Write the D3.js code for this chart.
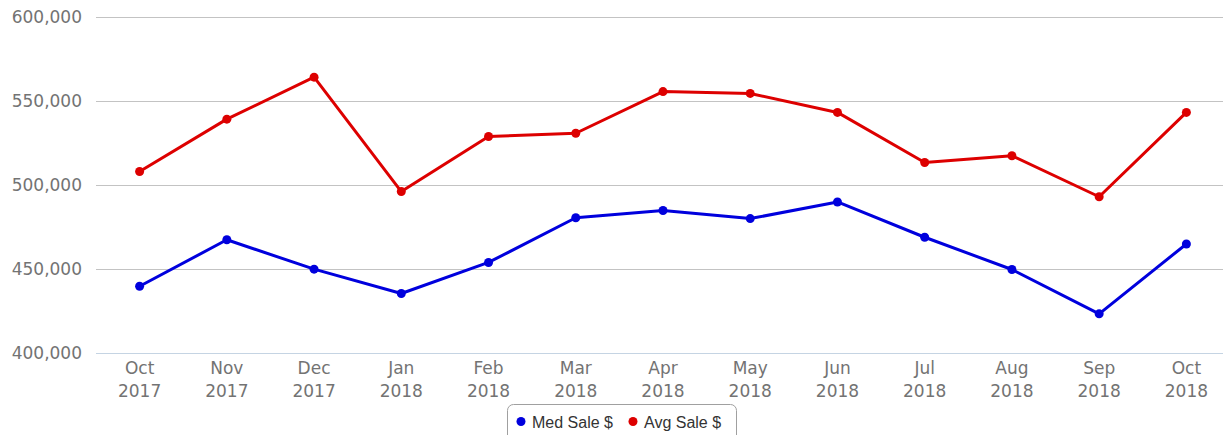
<!DOCTYPE html>
<html>
<head>
<meta charset="utf-8">
<script src="https://cdn.jsdelivr.net/npm/d3@7"></script>
<style>
  body { margin: 0; background: #fff; }
  svg { display: block; }
</style>
</head>
<body>
<div id="chartDiv"></div>
<script>
var W = 1223
var H = 435

// data
var months = ["Oct", "Nov", "Dec", "Jan", "Feb", "Mar", "Apr", "May", "Jun", "Jul", "Aug", "Sep", "Oct"]
var years = ["2017", "2017", "2017", "2018", "2018", "2018", "2018", "2018", "2018", "2018", "2018", "2018", "2018"]
var medSale = [440000, 467700, 450200, 435700, 454200, 480800, 485100, 480300, 490200, 469200, 450000, 423600, 465200]
var avgSale = [508300, 539500, 564500, 496400, 529200, 531100, 555900, 554800, 543500, 513700, 517700, 493300, 543500]
var yTicks = [400000, 450000, 500000, 550000, 600000]
var seriesNames = ["Med Sale $", "Avg Sale $"]
var seriesColors = ["#0000dd", "#dd0000"]

var svg = d3.select("#chartDiv")
    .append("svg")
    .attr("width", W)
    .attr("height", H)

// scales
var xScale = d3.scalePoint()
    .domain(d3.range(months.length))
    .range([96, 1230])
    .padding(0.5)

var yScale = d3.scaleLinear()
    .domain([400000, 600000])
    .range([353.5, 17.5])

// gridlines + y labels
var yAxis = d3.axisLeft(yScale)
    .tickValues(yTicks)
    .tickSize(0)
    .tickPadding(14)
    .tickFormat(d3.format(","))

var yG = svg.append("g")
    .attr("transform", "translate(96,0)")
    .call(yAxis)
yG.select(".domain").remove()
yG.selectAll("text")
    .attr("fill", "#737373")
    .attr("font-family", "DejaVu Sans")
    .attr("font-size", "17px")

svg.append("g").selectAll("line")
    .data(yTicks)
    .enter()
    .append("line")
    .attr("x1", 96)
    .attr("x2", W)
    .attr("y1", function(d) { return yScale(d) })
    .attr("y2", function(d) { return yScale(d) })
    .attr("stroke", function(d) { return d == 400000 ? "#c5d4e3" : "#c3c3c3" })
    .attr("stroke-width", 1.2)

// x labels, two lines each
var xG = svg.append("g")
xG.selectAll(".xlab")
    .data(months)
    .enter()
    .append("text")
    .attr("class", "xlab")
    .attr("text-anchor", "middle")
    .attr("fill", "#737373")
    .attr("font-family", "DejaVu Sans")
    .attr("font-size", "17px")
    .attr("x", function(d, i) { return xScale(i) })
    .attr("y", 374)
    .text(function(d) { return d })
xG.selectAll(".ylab")
    .data(years)
    .enter()
    .append("text")
    .attr("class", "ylab")
    .attr("text-anchor", "middle")
    .attr("fill", "#737373")
    .attr("font-family", "DejaVu Sans")
    .attr("font-size", "17px")
    .attr("x", function(d, i) { return xScale(i) })
    .attr("y", 397)
    .text(function(d) { return d })

// series
var line = d3.line()
    .x(function(d, i) { return xScale(i) })
    .y(function(d) { return yScale(d) })

var allSeries = [medSale, avgSale]
allSeries.forEach(function(vals, s) {
    var g = svg.append("g")
    g.append("path")
        .datum(vals)
        .attr("d", line)
        .attr("fill", "none")
        .attr("stroke", seriesColors[s])
        .attr("stroke-width", 3)
        .attr("stroke-linejoin", "round")
    g.selectAll("circle")
        .data(vals)
        .enter()
        .append("circle")
        .attr("cx", function(d, i) { return xScale(i) })
        .attr("cy", function(d) { return yScale(d) })
        .attr("r", 4.5)
        .attr("fill", seriesColors[s])
})

// legend
var legG = svg.append("g")
legG.append("rect")
    .attr("x", 507.5)
    .attr("y", 404.5)
    .attr("width", 229)
    .attr("height", 45)
    .attr("rx", 6)
    .attr("fill", "#fff")
    .attr("stroke", "#a0a0a0")

var legX = [521, 633]
seriesNames.forEach(function(name, s) {
    legG.append("circle")
        .attr("cx", legX[s])
        .attr("cy", 421.5)
        .attr("r", 4.5)
        .attr("fill", seriesColors[s])
    legG.append("text")
        .attr("x", legX[s] + 11)
        .attr("y", 428)
        .attr("fill", "#333")
        .attr("font-family", "Liberation Sans")
        .attr("font-size", "16px")
        .text(name)
})
</script>
</body>
</html>
